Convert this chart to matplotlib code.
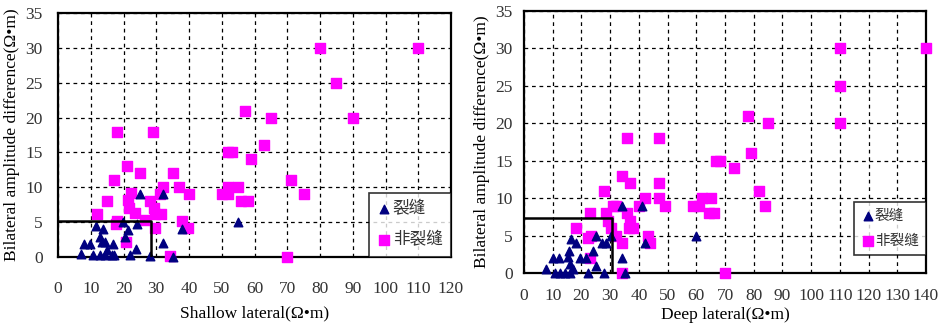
import numpy as np
import matplotlib.pyplot as plt

plt.rcParams['font.family'] = ['Liberation Serif', 'Noto Sans CJK SC']

# shallow lateral panel
sh_frac_x = [7, 7.8, 9.8, 11.7, 13.8, 12.8, 13.3, 16.9, 10.8, 12.8, 14.4, 16.4, 17, 22,
             19.7, 20.5, 21.5, 24, 23.8, 25, 32, 32, 28.1, 35.2, 37.8, 55, 14.9, 14.4]
sh_frac_y = [0.4, 1.9, 1.9, 4.5, 4, 2.8, 2.2, 1.9, 0.3, 0.3, 0.3, 0.3, 0.3, 0.3,
             5, 2.8, 3.9, 4.7, 1.1, 9.1, 9, 2, 0.1, 0, 4, 5, 1, 2.1]
sh_non_x = [80, 110, 85, 90, 57, 65, 63, 52, 53, 59, 71, 75, 50, 52, 52, 55, 56, 58, 70,
            18, 29, 21, 25, 35, 17, 32, 37, 40, 31, 22.3, 21.5, 15, 28, 29.3, 21.7, 23.5,
            31.5, 12, 29.6, 17.7, 26.6, 37.8, 39.8, 29.6, 20.8, 34.2, 18]
sh_non_y = [30, 30, 25, 20, 21, 20, 16, 15, 15, 14, 11, 9, 9, 10, 9, 10, 8, 8, 0,
            18, 18, 13, 12, 12, 11, 10, 10, 9, 9, 9.2, 8.2, 8, 8, 7.1, 7.1, 6.3,
            6.2, 6.2, 6.2, 4.7, 5.3, 5.2, 4.1, 4.1, 2.1, 0.2, 5.1]
sh_box = (28.3, 5.2)

# deep lateral panel
dp_frac_x = [34.3, 41, 30.4, 25.2, 27, 28.5, 16.2, 18, 15.7, 24, 15.4, 10.1, 12.1, 19.4,
             21.5, 7.6, 10.7, 12.4, 14.2, 15.9, 17, 16, 22.3, 25, 28, 34.2, 42, 60, 35]
dp_frac_y = [9, 9, 5, 5, 4, 4, 4.5, 4, 3, 3, 2.1, 2, 2, 2,
             2, 0.6, 0, 0, 0, 0, 0.5, 1.2, 0, 1, 0, 2, 4, 5, 0]
dp_non_x = [110, 140, 110, 110, 78, 85, 79, 66.7, 68.2, 73, 82, 84, 59, 61, 62, 65, 64.5,
            66.2, 70, 36, 47, 34, 37, 47, 28, 42, 47, 49, 40, 31, 32, 23, 28.7, 36, 37,
            29.4, 30.3, 18, 36.4, 38, 22.3, 23.5, 32.2, 43.2, 34, 43.8, 23, 34]
dp_non_y = [30, 30, 25, 20, 21, 20, 16, 15, 15, 14, 11, 9, 9, 9, 10, 10, 8,
            8, 0, 18, 18, 13, 12, 12, 11, 10, 10, 9, 9, 9, 9, 8, 8, 8, 7,
            7, 6, 6, 6, 6, 4.7, 5, 5, 5, 4, 4, 2, 0]
dp_box = (30.5, 7.4)

ylabel = 'Bilateral amplitude difference(Ω•m)'
labels = ['裂缝', '非裂缝']

fig = plt.figure(figsize=(9.41, 3.27), dpi=100)
ax1 = fig.add_axes([58/941, 1-257/327, 393/941, 244/327])
ax2 = fig.add_axes([524/941, 1-273/327, 402/941, 262/327])

# axes, data, box, xmax, xlabel, tick pads, xlabel pad, legend size / y / spacing
panels = [
    (ax1, sh_frac_x, sh_frac_y, sh_non_x, sh_non_y, sh_box, 120, 'Shallow lateral(Ω•m)',
     17, 11, 6, 12, 0.0, 0.9),
    (ax2, dp_frac_x, dp_frac_y, dp_non_x, dp_non_y, dp_box, 140, 'Deep lateral(Ω•m)',
     11, 8, 2, 10.5, 18/262, 0.8),
]

for ax, fx, fy, nx, ny, box, xmax, xlabel, xpad, ypad, lpad, lsize, ly, lsp in panels:
    ax.scatter(nx, ny, marker='s', s=44, color='#FF00FF', label=labels[1], zorder=3, clip_on=False)
    ax.scatter(fx, fy, marker='^', s=38, color='#000080', label=labels[0], zorder=4, clip_on=False)
    ax.plot([0, box[0], box[0]], [box[1], box[1], 0], color='black', lw=1.8, zorder=5)
    ax.set_xlim(0, xmax)
    ax.set_ylim(0, 35)
    ax.set_xticks(np.arange(0, xmax + 1, 10))
    ax.set_yticks(np.arange(0, 36, 5))
    ax.grid(True, color='black', linestyle=(0, (3, 3)), lw=0.9)
    ax.set_axisbelow(True)
    ax.tick_params(length=0, labelsize=12.5, labelcolor='#333333')
    ax.tick_params(axis='x', pad=xpad)
    ax.tick_params(axis='y', pad=ypad)
    for sp in ax.spines.values():
        sp.set_linewidth(1.6)
    ax.set_xlabel(xlabel, fontsize=12.5, labelpad=lpad)
    ax.set_ylabel(ylabel, fontsize=12.5, labelpad=4)
    h, l = ax.get_legend_handles_labels()
    leg = ax.legend(h[::-1], l[::-1], loc='lower right', bbox_to_anchor=(1, ly),
                    fontsize=lsize, frameon=True, fancybox=False, edgecolor='black',
                    borderaxespad=0, handletextpad=0.1, handlelength=0.8,
                    labelspacing=lsp, borderpad=0.5, labelcolor='#333333')
    leg.get_frame().set_linewidth(1.2)

fig.savefig('out.png', dpi=100)
